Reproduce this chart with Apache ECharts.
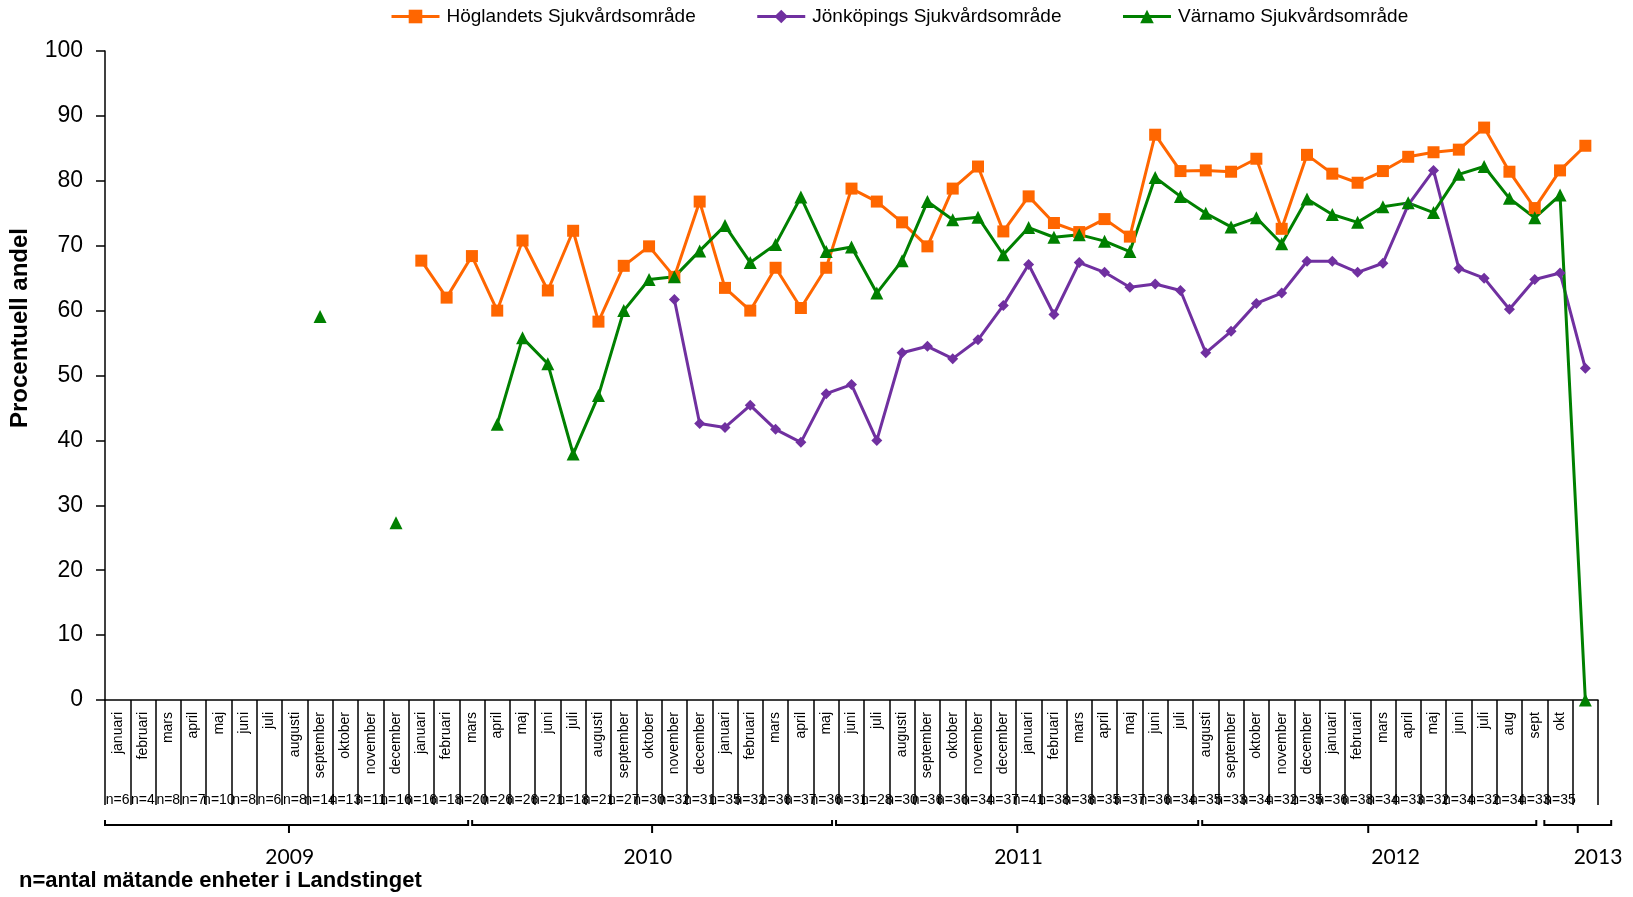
<!DOCTYPE html>
<html>
<head>
<meta charset="utf-8">
<script src="https://cdn.jsdelivr.net/npm/echarts@6/dist/echarts.min.js"></script>
<style>
html,body{margin:0;padding:0;background:#fff;}
#chart{width:1633px;height:897px;}
</style>
</head>
<body>
<div id="chart"></div>
<script>
// ---- data ----
const months = [
  'januari','februari','mars','april','maj','juni','juli','augusti','september','oktober','november','december',
  'januari','februari','mars','april','maj','juni','juli','augusti','september','oktober','november','december',
  'januari','februari','mars','april','maj','juni','juli','augusti','september','oktober','november','december',
  'januari','februari','mars','april','maj','juni','juli','augusti','september','oktober','november','december',
  'januari','februari','mars','april','maj','juni','juli','aug','sept','okt',''
];
const nCounts = [
  6,4,8,7,10,8,6,8,14,13,11,16,
  16,18,20,26,26,21,18,21,27,30,32,31,
  35,32,36,37,36,31,28,30,36,36,34,37,
  41,38,38,35,37,36,34,35,33,34,32,35,
  36,38,34,33,32,34,32,34,33,35,null
];
const years = ['2009','2010','2011','2012','2013'];
const seriesNames = ['Höglandets Sjukvårdsområde','Jönköpings Sjukvårdsområde','Värnamo Sjukvårdsområde'];
const hoglandet = [
  null,null,null,null,null,null,null,null,null,null,null,null,
  67.7,62.0,68.4,60.0,70.8,63.1,72.3,58.3,66.9,69.9,65.2,76.8,
  63.5,60.0,66.6,60.4,66.6,78.8,76.8,73.6,69.9,78.8,82.2,72.2,
  77.6,73.5,72.1,74.1,71.4,87.1,81.5,81.6,81.4,83.4,72.6,84.0,
  81.1,79.7,81.5,83.7,84.4,84.8,88.2,81.4,75.8,81.6,85.4
];
const jonkoping = [
  null,null,null,null,null,null,null,null,null,null,null,null,
  null,null,null,null,null,null,null,null,null,null,61.7,42.6,
  42.0,45.4,41.7,39.7,47.2,48.6,40.0,53.5,54.5,52.6,55.5,60.8,
  67.1,59.4,67.4,65.9,63.6,64.1,63.1,53.5,56.8,61.1,62.7,67.6,
  67.6,65.9,67.3,76.3,81.6,66.5,65.0,60.2,64.8,65.8,51.1
];
const varnamo = [
  null,null,null,null,null,null,null,null,59.1,null,null,27.3,
  null,null,null,42.5,55.8,51.8,37.9,46.9,60.0,64.8,65.2,69.2,
  73.1,67.4,70.2,77.5,69.1,69.8,62.7,67.7,76.8,74.0,74.4,68.6,
  72.8,71.3,71.7,70.7,69.1,80.5,77.6,75.0,72.9,74.3,70.3,77.2,
  74.8,73.6,76.0,76.6,75.1,81.0,82.2,77.3,74.3,77.8,0
];

// ---- layout (pixels / category units) ----
const GRID_LEFT = 105, GRID_TOP = 51, GRID_RIGHT = 35, GRID_BOTTOM = 197;
const GRID_W = 1633 - GRID_LEFT - GRID_RIGHT;
const CAT_W = GRID_W / months.length;
// year brackets in category units: [start, end, midTick, labelCenter]
const yearLayout = [
  [0, 14.43, 7.27, 7.3],
  [14.43, 28.81, 21.62, 21.45],
  [28.81, 43.28, 36.05, 36.1],
  [43.28, 56.64, 49.92, 51.0],
  [56.8, 59.6, 58.2, 59.0]
];
const BRACKET_Y = 825, YEAR_LABEL_Y = 857;
const ux = u => GRID_LEFT + u * CAT_W;

const graphics = [];
yearLayout.forEach((l, k) => {
  const x0 = ux(l[0]) + (k === 0 ? 0 : 2), x1 = ux(l[1]) - 2, xm = ux(l[2]);
  graphics.push({type:'polyline', silent:true, shape:{points:[[x0,BRACKET_Y-5],[x0,BRACKET_Y],[x1,BRACKET_Y],[x1,BRACKET_Y-5]]},
    style:{stroke:'#000', lineWidth:2, fill:null}});
  graphics.push({type:'line', silent:true, shape:{x1:xm, y1:BRACKET_Y, x2:xm, y2:BRACKET_Y+8}, style:{stroke:'#000', lineWidth:2}});
  graphics.push({type:'text', silent:true, x: ux(l[3]), y: YEAR_LABEL_Y,
    style:{text: years[k], fill:'#000', font:'21px Lato, "Open Sans", sans-serif', align:'center', verticalAlign:'middle'}});
});
graphics.push({type:'text', silent:true, x: 20, y: 328, rotation: Math.PI/2,
  style:{text:'Procentuell andel', fill:'#000', font:'bold 24px "Liberation Sans", Arial, sans-serif', align:'center', verticalAlign:'middle'}});
graphics.push({type:'text', silent:true, x: 19, y: 881,
  style:{text:'n=antal mätande enheter i Landstinget', fill:'#000', font:'bold 22px "Liberation Sans", Arial, sans-serif', align:'left', verticalAlign:'middle'}});

const chart = echarts.init(document.getElementById('chart'));
const colors = ['#FF6600','#7030A0','#008000'];
const symbols = ['rect','diamond','triangle'];
const symbolSizes = [12, 11, 13];
const datasets = [hoglandet, jonkoping, varnamo];

chart.setOption({
  animation: false,
  backgroundColor: '#fff',
  textStyle: {fontFamily: '"Liberation Sans", Arial, sans-serif'},
  legend: {
    left: 385, top: 2, itemGap: 60, itemWidth: 48, itemHeight: 17,
    lineStyle: {width: 3},
    textStyle: {fontSize: 19, color: '#000', padding: [0,0,0,2]},
    data: seriesNames
  },
  grid: {left: GRID_LEFT, top: GRID_TOP, right: GRID_RIGHT, bottom: GRID_BOTTOM, containLabel: false},
  xAxis: [{
    type: 'category', data: months, boundaryGap: true, position: 'bottom',
    axisLine: {show: true, lineStyle: {color: '#000', width: 1.5}},
    axisTick: {show: true, interval: 0, length: 105, inside: false, lineStyle: {color: '#000', width: 1.5}},
    axisLabel: {interval: 0, rotate: 90, margin: 12, fontSize: 14, color: '#000'},
    splitLine: {show: false}
  }, {
    type: 'category', data: nCounts.map(v => v == null ? '' : 'n=' + v), boundaryGap: true, position: 'bottom', offset: 87,
    axisLine: {show: false}, axisTick: {show: false},
    axisLabel: {interval: 0, margin: 6, fontSize: 14, color: '#000', hideOverlap: false},
    splitLine: {show: false}
  }],
  yAxis: {
    type: 'value', min: 0, max: 100, interval: 10,
    axisLine: {show: true, lineStyle: {color: '#000', width: 1.5}},
    axisTick: {show: true, inside: false, length: 9, lineStyle: {color: '#000', width: 1.5}},
    axisLabel: {fontSize: 23, color: '#000', margin: 22},
    splitLine: {show: false}
  },
  graphic: graphics,
  series: datasets.map((d, i) => ({
    name: seriesNames[i], type: 'line', data: d, xAxisIndex: 0,
    symbol: symbols[i], symbolSize: symbolSizes[i], showSymbol: true, showAllSymbol: true,
    connectNulls: false, clip: false,
    lineStyle: {color: colors[i], width: 3},
    itemStyle: {color: colors[i]}
  }))
});
</script>
</body>
</html>
